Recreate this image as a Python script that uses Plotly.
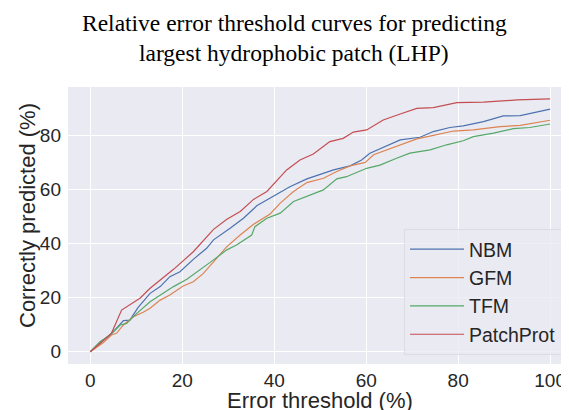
import plotly.graph_objects as go

# ---- data ----
series_names = ["NBM", "GFM", "TFM", "PatchProt"]

nbm_x = [0, 5.0, 7.2, 8.6, 10.4, 13.0, 15.2, 17.3, 19.5, 22.4, 25.3, 26.8, 30.4, 33.3, 36.2, 39.8,
         43.4, 47.1, 50.0, 52.9, 56.5, 59.0, 60.8, 63.7, 67.4, 71.7, 74.6, 78.2, 81.1, 85.5, 89.8,
         93.5, 96.4, 100]
nbm_y = [0, 7.4, 11.5, 11.7, 16.4, 21.6, 24.1, 27.8, 29.6, 34.2, 38.3, 41.4, 45.7, 49.4, 54.0, 57.4,
         61.1, 64.0, 65.7, 67.3, 68.8, 71.0, 73.5, 75.7, 78.4, 79.4, 81.5, 83.0, 83.6, 85.2, 87.3,
         87.4, 88.5, 89.8]

gfm_x = [0, 2.8, 4.6, 5.7, 7.2, 9.4, 11.5, 13.0, 15.2, 17.3, 20.2, 22.4, 24.6, 26.8, 29.7, 32.6,
         35.5, 39.1, 41.3, 44.2, 47.1, 50.7, 53.6, 56.5, 59.8, 61.6, 64.5, 68.1, 71.0, 74.6, 79.0,
         83.3, 89.1, 93.5, 96.4, 100]
gfm_y = [0, 3.3, 6.2, 6.8, 9.9, 13.0, 14.6, 16.1, 19.1, 21.0, 24.3, 25.9, 29.0, 33.3, 38.9, 43.2,
         47.2, 51.0, 55.0, 59.3, 62.6, 64.2, 66.7, 68.8, 70.1, 72.9, 74.7, 77.2, 78.8, 80.1, 81.7,
         82.1, 83.3, 83.8, 84.6, 85.7]

tfm_x = [0, 2.1, 4.3, 6.5, 7.9, 10.1, 13.0, 15.2, 18.1, 21.0, 23.9, 26.8, 29.7, 31.8, 35.1, 35.8,
         38.4, 41.3, 44.2, 47.1, 50.7, 53.6, 55.7, 60.1, 63.0, 66.6, 69.5, 73.9, 77.5, 81.1, 83.3,
         87.7, 92.0, 95.6, 100]
tfm_y = [0, 3.7, 6.2, 9.9, 10.5, 14.2, 18.5, 21.0, 24.1, 26.8, 30.3, 34.0, 37.7, 39.5, 43.2, 46.3,
         49.4, 51.3, 55.6, 57.4, 59.9, 64.0, 64.8, 67.9, 69.1, 71.6, 73.5, 74.7, 76.6, 78.1, 79.6,
         80.9, 82.6, 83.0, 84.3]

pp_x = [0, 4.6, 6.8, 8.6, 10.8, 13.0, 15.2, 18.1, 22.4, 26.8, 29.7, 32.6, 35.5, 38.4, 42.7, 45.6,
        48.5, 52.1, 55.0, 57.2, 60.1, 63.7, 67.4, 71.0, 74.6, 79.7, 85.5, 92.8, 100]
pp_y = [0, 6.8, 15.4, 17.3, 19.8, 23.5, 26.6, 30.5, 37.0, 45.3, 49.0, 51.9, 56.4, 59.3, 67.3, 71.0,
        73.2, 77.8, 79.0, 81.3, 82.1, 85.8, 88.0, 90.1, 90.4, 92.2, 92.4, 93.2, 93.6]

x_ticks = [0, 20, 40, 60, 80, 100]
y_ticks = [0, 20, 40, 60, 80]

colors = ["#4C72B0", "#DD8452", "#55A868", "#C44E52"]
xs = [nbm_x, gfm_x, tfm_x, pp_x]
ys = [nbm_y, gfm_y, tfm_y, pp_y]

fig = go.Figure()
for name, x, y, c in zip(series_names, xs, ys, colors):
    fig.add_trace(go.Scatter(x=x, y=y, mode="lines", name=name, legendgroup=name,
                             line=dict(color=c, width=1.2)))

txt = "#262626"
serif = "Liberation Serif, Times New Roman, serif"
# page body has an 8px margin, so the figure is shifted by 8px; sizes compensate
W, H = 561, 402
L, T, B = 60, 79, 46
pw, ph = W - L, H - T - B


def px(xp):
    return (xp - 8 - L) / pw


def py(yp):
    return (H - B - (yp - 8)) / ph


fig.update_layout(
    width=W, height=H,
    margin=dict(l=L, r=0, t=T, b=B, autoexpand=False),
    paper_bgcolor="white", plot_bgcolor="#EAEAF2",
    font=dict(family="Liberation Sans, Arial, sans-serif", color=txt),
    showlegend=True,
    legend=dict(x=px(562), y=py(355), xanchor="right", yanchor="bottom",
                bgcolor="rgba(234,234,242,0.8)", bordercolor="#DCDCE2", borderwidth=1,
                font=dict(size=19.5, color=txt), tracegroupgap=0, itemwidth=54),
    annotations=[
        dict(text="Relative error threshold curves for predicting", x=px(294), y=py(23),
             xref="paper", yref="paper", showarrow=False, yanchor="middle", xanchor="center",
             font=dict(family=serif, size=23.5, color="black")),
        dict(text="largest hydrophobic patch (LHP)", x=px(294), y=py(53),
             xref="paper", yref="paper", showarrow=False, yanchor="middle", xanchor="center",
             font=dict(family=serif, size=23.5, color="black")),
        dict(text="Error threshold (%)", x=px(320), y=py(400),
             xref="paper", yref="paper", showarrow=False, yanchor="middle", xanchor="center",
             font=dict(size=22, color=txt)),
        dict(text="Correctly predicted (%)", x=px(27), y=py(216), textangle=-90,
             xref="paper", yref="paper", showarrow=False, yanchor="middle", xanchor="center",
             font=dict(size=22, color=txt)),
    ],
)

fig.update_xaxes(range=[-4.85, 104.1], tickvals=x_ticks, showgrid=True, gridcolor="white",
                 gridwidth=1, zeroline=False, showline=False, ticks="", automargin=False,
                 tickfont=dict(size=19, color=txt), ticklabelstandoff=3)
fig.update_yaxes(range=[-4.55, 98.0], tickvals=y_ticks, showgrid=True, gridcolor="white",
                 gridwidth=1, zeroline=False, showline=False, ticks="", automargin=False,
                 tickfont=dict(size=19, color=txt), ticklabelstandoff=6)

fig.write_html("out.html")
